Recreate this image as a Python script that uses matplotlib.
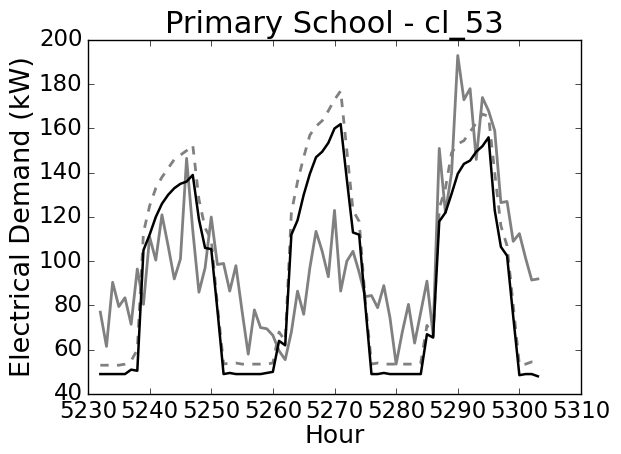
import matplotlib
matplotlib.use("Agg")
import matplotlib.pyplot as plt

plt.style.use("classic")

hours = list(range(5232, 5304))

centroid = [49, 49, 49, 49, 49, 51, 50.5, 105, 112, 120, 126, 130, 133, 135, 136, 139,
            119, 106, 105.5, 78, 49, 49.5, 49, 49, 49, 49, 49, 49.5, 50, 64, 62, 112,
            118.5, 130, 139.5, 147, 149.5, 153.5, 160, 162, 137, 113, 112, 80, 49, 49,
            49.5, 49, 49, 49, 49, 49, 49, 67, 65.5, 118, 122, 130.5, 139.5, 144, 145.5,
            149.5, 152, 156, 123, 106.5, 102.5, 75, 48.5, 49, 49, 48]

upper = [53, 53, 53, 53, 53.5, 55, 60, 113, 125, 133, 138, 142, 146, 148, 150, 152.5,
         128, 115, 110, 80, 53.5, 54, 54, 53.5, 53.5, 53.5, 53.5, 53.5, 54, 68, 64, 122,
         136, 147, 157, 161, 163.5, 168, 173, 177, 150, 123, 118, 82, 53.5, 54, 53.5,
         53.5, 53.5, 53.5, 53.5, 53.5, 54, 71, 66, 124, 133, 149, 153, 154.5, 158.5,
         162.5, 166.5, 165.5, 140, 116, 107, 80, 53, 53.5, 54.5, 54.5]

observed = [77, 61.5, 90.5, 79.5, 83.5, 71.5, 96.5, 80.5, 111, 100.5, 121, 107, 92, 101,
            146.5, 114, 86, 97, 120, 98.5, 99, 86.5, 98, 77.5, 58, 78, 70, 69.5, 66.5,
            59.5, 55.5, 68, 86.5, 76, 97, 113.5, 104.5, 93, 123, 86.5, 100, 104.5, 95, 84,
            84.5, 79, 89, 74.5, 53.5, 68, 80.5, 63, 77, 91, 67, 151, 122, 140, 193, 173,
            178, 146, 174, 168, 159, 126.5, 127, 109, 112.5, 101.5, 91.5, 92]

fig = plt.figure(figsize=(6.21, 4.54), dpi=100, facecolor="white")
ax = fig.add_axes([0.1417, 0.1322, 0.7939, 0.7797])
ax.set_facecolor("white")

ax.plot(hours, observed, color="0.5", lw=2, ls="-")
ax.plot(hours, upper, color="0.5", lw=2, ls="--")
ax.plot(hours, centroid, color="black", lw=1.8, ls="-")

ax.set_xlim(5230, 5310)
ax.set_ylim(40, 200)
ax.set_xticks(range(5230, 5311, 10))
ax.set_yticks(range(40, 201, 20))
ax.tick_params(labelsize=16.5)
ax.set_xlabel("Hour", fontsize=18, labelpad=1)
ax.set_ylabel("Electrical Demand (kW)", fontsize=19.5, labelpad=2)
ax.set_title("Primary School - cl_53", fontsize=22)

fig.savefig("out.png", dpi=100, facecolor="white")
